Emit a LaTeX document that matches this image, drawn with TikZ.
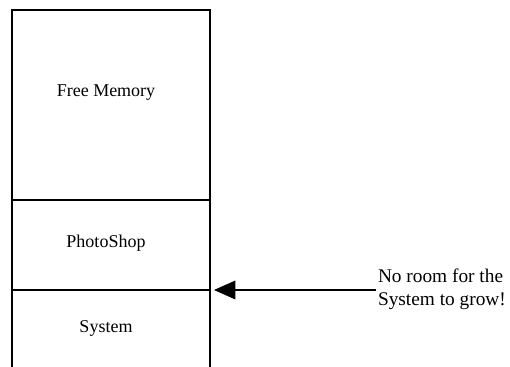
\documentclass[tikz,border=0pt]{standalone}
\usepackage{fontspec}
\setmainfont{Liberation Serif}
\usetikzlibrary{arrows.meta, positioning}

\begin{document}
\begin{tikzpicture}[x=0.75pt, y=0.75pt, line width=1pt, font=\fontsize{13.5}{17}\selectfont]
    \useasboundingbox (0,0) rectangle (510,367);

    % Esquinas del bloque de memoria (abierto por abajo)
    \coordinate (bl) at (12,0);
    \coordinate (tl) at (12,357);
    \coordinate (tr) at (210,357);
    \coordinate (br) at (210,0);
    \draw (bl) -- (tl) -- (tr) -- (br);

    % Divisiones entre regiones
    \draw (12,167) -- (210,167);
    \draw (12,77) -- (210,77);

    % Etiquetas de las regiones
    \node (free) at (106,274) {Free Memory};
    \node (photo) at (106,124) {PhotoShop};
    \node (sys) at (106,39) {System};

    % Nota y flecha hacia el borde del sistema
    \node (nota) [anchor=west, align=left, inner sep=1pt, font=\fontsize{14.5}{17.5}\selectfont] at (376,78) {No room for the\\System to grow!};
    \coordinate (punta) at (214,77);
    \draw[-{Triangle[length=16pt, width=14pt]}] (nota.west |- punta) -- (punta);
\end{tikzpicture}
\end{document}
